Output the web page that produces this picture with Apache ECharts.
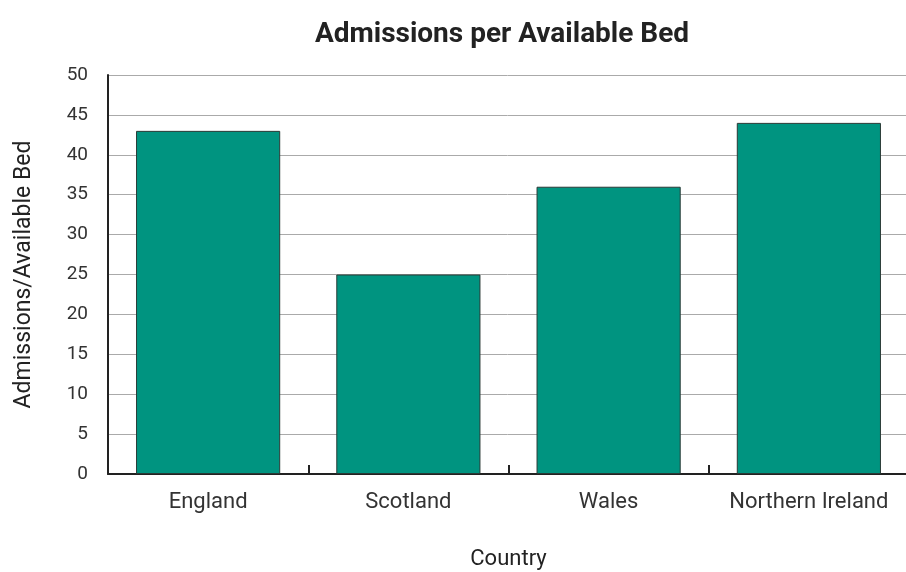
<!DOCTYPE html>
<html>
<head>
<meta charset="utf-8">
<script src="https://cdn.jsdelivr.net/npm/echarts@6/dist/echarts.min.js"></script>
<style>
html,body{margin:0;padding:0;background:#fff;}
#chart{width:906px;height:572px;}
</style>
</head>
<body>
<div id="chart"></div>
<script>
// 数据
var countries = ["England", "Scotland", "Wales", "Northern Ireland"];
var admissions = [43, 25, 36, 44];

var chart = echarts.init(document.getElementById("chart"));
var option = {
    animation: false,
    textStyle: { fontFamily: "Roboto" },
    title: {
        text: "Admissions per Available Bed",
        left: 497,
        textAlign: "center",
        top: 16,
        textStyle: { fontSize: 28, fontWeight: "bold", color: "#222", fontFamily: "Roboto" }
    },
    grid: { left: 108, right: -3, top: 75, bottom: 98, outerBoundsMode: "none" },
    xAxis: {
        type: "category",
        data: countries,
        name: "Country",
        nameLocation: "middle",
        nameGap: 74,
        nameTextStyle: { fontSize: 22, color: "#222" },
        axisLine: { lineStyle: { color: "#222", width: 2 } },
        axisTick: { show: true, inside: true, interval: 0, length: 9, lineStyle: { color: "#222", width: 2 } },
        axisLabel: { interval: 0, fontSize: 22, color: "#333", margin: 17 }
    },
    yAxis: {
        type: "value",
        min: 0,
        max: 50,
        interval: 5,
        name: "Admissions/Available Bed",
        nameLocation: "middle",
        nameGap: 72,
        nameTextStyle: { fontSize: 23, color: "#222" },
        axisLine: { show: true, lineStyle: { color: "#222", width: 2 } },
        axisTick: { show: false },
        axisLabel: { fontSize: 19, color: "#333", margin: 20 },
        splitLine: { lineStyle: { color: "#aaa", width: 1 } }
    },
    series: [{
        type: "bar",
        data: admissions,
        barCategoryGap: "28%",
        itemStyle: { color: "#009480", borderColor: "#2a3a36", borderWidth: 1 }
    }]
};
chart.setOption(option);
</script>
</body>
</html>
